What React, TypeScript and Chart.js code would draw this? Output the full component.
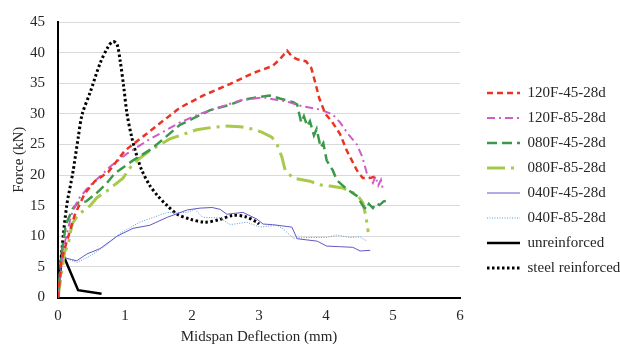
import React, { useEffect, useRef } from "react";
import { Chart, registerables } from "chart.js";

Chart.register(...registerables);

// ---------- data (deflection in mm, force in kN) ----------
const seriesLabels = [
  "120F-45-28d",
  "120F-85-28d",
  "080F-45-28d",
  "080F-85-28d",
  "040F-45-28d",
  "040F-85-28d",
  "unreinforced",
  "steel reinforced",
];

const defl120F45 = [0, 0.05, 0.1, 0.25, 0.4, 0.55, 0.75, 1.0, 1.27, 1.55, 1.82, 2.17, 2.57, 2.92, 3.2, 3.31, 3.42, 3.49, 3.57, 3.7, 3.78, 3.84, 3.9, 3.99, 4.09, 4.21, 4.31, 4.46, 4.55, 4.65, 4.75];
const force120F45 = [0, 6, 8, 13.5, 17, 19, 20.5, 24, 26.3, 28.7, 31, 33, 34.9, 36.7, 37.8, 38.9, 40.3, 39.4, 38.9, 38.6, 37.5, 35.1, 32.5, 30, 28.7, 26.7, 24, 20.8, 19.5, 19.5, 19.8];

const defl120F85 = [0, 0.08, 0.2, 0.3, 0.45, 0.63, 0.78, 1.03, 1.33, 1.82, 2.12, 2.72, 3.06, 3.25, 3.42, 3.66, 3.91, 4.1, 4.21, 4.33, 4.46, 4.54, 4.61, 4.7, 4.74, 4.78, 4.82, 4.85];
const force120F85 = [0, 8, 13.5, 16, 18, 19.8, 21.4, 23.5, 25.6, 28.6, 30, 32.2, 32.7, 32.3, 32, 31.2, 30.7, 29.9, 28.6, 26.7, 25, 23, 20.3, 18.7, 19.8, 18.3, 19.2, 17.6];

const defl080F45 = [0, 0.05, 0.12, 0.22, 0.3, 0.42, 0.58, 0.73, 0.85, 1.12, 1.4, 1.82, 2.27, 2.57, 2.76, 2.97, 3.16, 3.31, 3.51, 3.57, 3.6, 3.63, 3.67, 3.72, 3.76, 3.82, 3.86, 3.92, 3.96, 4.01, 4.1, 4.16, 4.3, 4.46, 4.55, 4.6, 4.64, 4.7, 4.75, 4.8, 4.86, 4.93];
const force080F45 = [0, 7, 12, 14.5, 15.5, 15.7, 17.1, 18.7, 20.3, 22.4, 24.3, 28.2, 30.6, 31.5, 32.3, 32.7, 33, 32.5, 31.9, 31.5, 30, 28.6, 29.6, 28, 28.8, 26.5, 27.5, 24.5, 25.2, 22.4, 20.8, 19.2, 17.8, 16.6, 15, 14.4, 15.3, 14.6, 15.4, 15.1, 15.7, 15.8];

const defl080F85 = [0, 0.1, 0.15, 0.21, 0.3, 0.48, 0.58, 0.73, 0.97, 1.12, 1.37, 1.67, 2.07, 2.31, 2.5, 2.72, 2.91, 3.04, 3.19, 3.27, 3.34, 3.39, 3.51, 3.76, 3.91, 4.06, 4.25, 4.46, 4.55, 4.6, 4.63];
const force080F85 = [0, 7.5, 8.5, 12, 13.5, 15, 16.3, 17.4, 19.5, 21.9, 24, 25.9, 27.4, 27.8, 28, 27.9, 27.5, 27, 26.2, 25, 23, 20.8, 19.5, 19, 18.4, 18.2, 17.9, 16.8, 15.5, 13, 10.7];

const defl040F45 = [0, 0.06, 0.1, 0.2, 0.28, 0.43, 0.63, 0.88, 1.12, 1.37, 1.63, 1.93, 2.12, 2.3, 2.42, 2.52, 2.76, 2.97, 3.06, 3.2, 3.49, 3.57, 3.87, 4.01, 4.2, 4.4, 4.51, 4.66];
const force040F45 = [0, 7.5, 6.5, 6.2, 6, 7.1, 8, 10, 11.3, 11.8, 13.1, 14.3, 14.6, 14.7, 14.4, 13.6, 13.9, 12.8, 12, 11.9, 11.5, 9.6, 9.2, 8.4, 8.3, 8.2, 7.6, 7.7];

const defl040F85 = [0, 0.06, 0.1, 0.28, 0.48, 0.73, 0.93, 1.22, 1.48, 1.63, 1.93, 2.04, 2.16, 2.42, 2.57, 2.82, 3.01, 3.27, 3.36, 3.51, 3.76, 4.01, 4.16, 4.36, 4.51, 4.61];
const force040F85 = [0, 7, 6.5, 5.7, 6.8, 8.6, 10.5, 12.3, 13.3, 13.9, 13.9, 14.4, 13.1, 13, 11.9, 12.3, 11.5, 11.8, 11.2, 9.7, 9.8, 9.8, 10.2, 9.8, 9.9, 9.2];

const deflUnreinforced = [0, 0.06, 0.3, 0.65];
const forceUnreinforced = [0, 7.4, 1.2, 0.6];

const deflSteel = [0, 0.06, 0.13, 0.22, 0.3, 0.36, 0.48, 0.63, 0.75, 0.82, 0.88, 0.93, 0.98, 1.03, 1.1, 1.18, 1.25, 1.37, 1.49, 1.63, 1.78, 1.97, 2.19, 2.4, 2.61, 2.8, 2.97, 3.0];
const forceSteel = [0, 8, 15, 20.3, 26, 29.9, 33.5, 38.3, 41.0, 41.8, 41.4, 38.5, 34.5, 30.0, 26.2, 23.0, 20.8, 18.3, 16.6, 15.0, 13.6, 12.8, 12.3, 12.7, 13.4, 13.2, 12.3, 12.0];

const xMin = 0, xMax = 6, xStep = 1;
const yMin = 0, yMax = 45, yStep = 5;

const toPoints = (xs: number[], ys: number[]) => xs.map((x, i) => ({ x, y: ys[i] }));

const FONT = "'Liberation Serif', 'Times New Roman', serif";
const TEXT = "#262626";

export default function App() {
  const ref = useRef<HTMLCanvasElement | null>(null);

  useEffect(() => {
    if (!ref.current) return;
    const mk = (i: number, xs: number[], ys: number[], color: string, width: number, dash: number[], tension = 0) => ({
      label: seriesLabels[i],
      data: toPoints(xs, ys),
      borderColor: color,
      backgroundColor: color,
      borderWidth: width,
      borderDash: dash,
      pointRadius: 0,
      pointHoverRadius: 0,
      tension,
      fill: false,
    });
    const datasets = [
      mk(0, defl120F45, force120F45, "#EA3323", 2.5, [6, 4]),
      mk(1, defl120F85, force120F85, "#D05CC8", 2, [8, 4, 2, 4]),
      mk(2, defl080F45, force080F45, "#3A9A4A", 2.5, [10, 5]),
      mk(3, defl080F85, force080F85, "#A9C94B", 3, [18, 6, 3, 6]),
      mk(4, defl040F45, force040F45, "#6258C4", 1, []),
      mk(5, defl040F85, force040F85, "#5B9BD5", 1, [1, 1.5]),
      mk(6, deflUnreinforced, forceUnreinforced, "#000000", 2.5, []),
      mk(7, deflSteel, forceSteel, "#000000", 3, [2.5, 2.5], 0.3),
    ];

    const chart = new Chart(ref.current, {
      type: "line",
      data: { datasets: datasets as any },
      options: {
        animation: false,
        responsive: false,
        devicePixelRatio: 1,
        layout: { padding: { top: 15, bottom: 3, left: 0, right: 0 } },
        scales: {
          x: {
            type: "linear",
            min: xMin,
            max: xMax,
            ticks: { stepSize: xStep, color: TEXT, font: { family: FONT, size: 15 }, padding: 10 },
            grid: { display: false, drawTicks: false },
            border: { display: true, color: "#000000", width: 2 },
            title: {
              display: true,
              text: "Midspan Deflection (mm)",
              color: TEXT,
              font: { family: FONT, size: 15 },
              padding: { top: 0, bottom: 0 },
            },
            afterFit: (s: any) => { s.height = 48.5; },
          },
          y: {
            type: "linear",
            min: yMin,
            max: yMax,
            ticks: { stepSize: yStep, color: TEXT, font: { family: FONT, size: 15 }, padding: 13 },
            grid: { color: "#D9D9D9", lineWidth: 1, drawTicks: false },
            border: { display: true, color: "#000000", width: 2 },
            title: {
              display: true,
              text: "Force (kN)",
              color: TEXT,
              font: { family: FONT, size: 15 },
              padding: { top: 10, bottom: 0 },
            },
            afterFit: (s: any) => { s.width = 58; },
          },
          pad: {
            type: "linear",
            position: "right",
            display: true,
            ticks: { display: false },
            grid: { display: false, drawTicks: false },
            border: { display: false },
            afterFit: (s: any) => { s.width = 17; },
          },
        } as any,
        plugins: {
          tooltip: { enabled: false },
          legend: {
            position: "right",
            align: "center",
            maxWidth: 143,
            labels: {
              usePointStyle: true,
              pointStyle: "line",
              pointStyleWidth: 33,
              boxHeight: 15,
              padding: 10,
              color: TEXT,
              font: { family: FONT, size: 15 },
              generateLabels: (c: any) => {
                const items = (Chart.defaults.plugins.legend.labels as any).generateLabels(c);
                items.forEach((it: any) => {
                  const ds: any = c.data.datasets[it.datasetIndex];
                  it.lineDash = ds.borderDash;
                  it.lineWidth = ds.borderWidth;
                  it.strokeStyle = ds.borderColor;
                  it.fillStyle = ds.borderColor;
                  it.lineCap = "butt";
                });
                return items;
              },
            },
          } as any,
        },
      },
    });
    return () => chart.destroy();
  }, []);

  return (
    <div style={{ position: "absolute", left: 0, top: 0, width: 620, height: 349, background: "#fff" }}>
      <canvas ref={ref} width={620} height={349} style={{ display: "block", width: 620, height: 349 }} />
    </div>
  );
}
